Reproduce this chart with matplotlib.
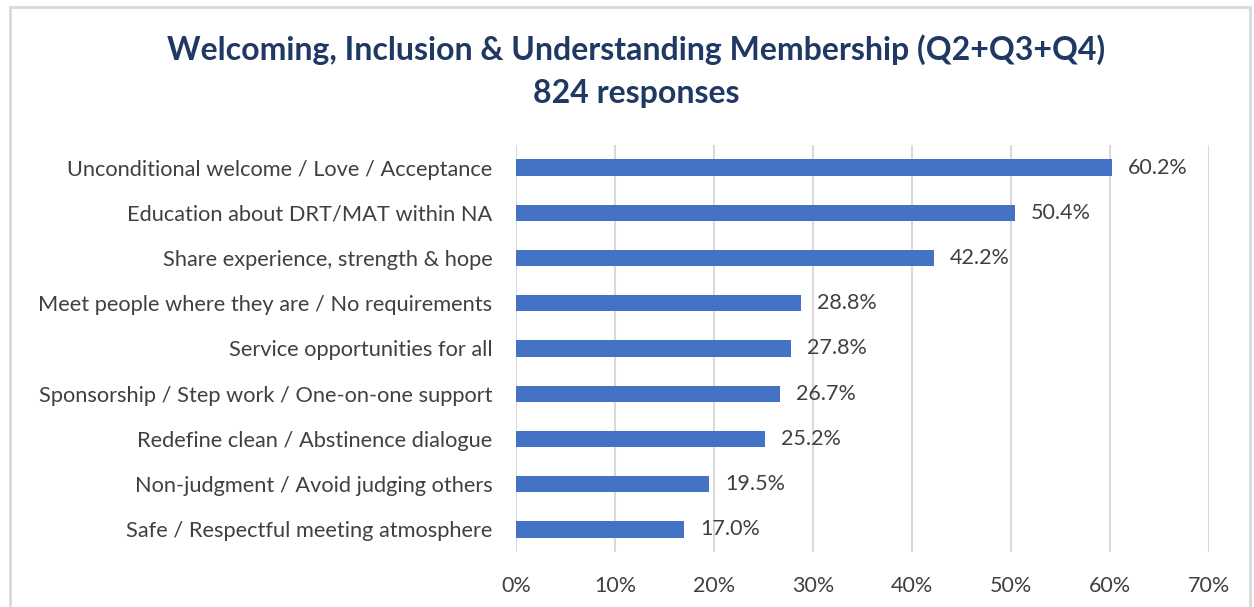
import numpy as np
import matplotlib.pyplot as plt
from matplotlib.patches import Rectangle
from matplotlib.ticker import PercentFormatter

plt.rcParams['font.family'] = ['Lato', 'DejaVu Sans']

categories = [
    "Unconditional welcome / Love / Acceptance",
    "Education about DRT/MAT within NA",
    "Share experience, strength & hope",
    "Meet people where they are / No requirements",
    "Service opportunities for all",
    "Sponsorship / Step work / One-on-one support",
    "Redefine clean / Abstinence dialogue",
    "Non-judgment / Avoid judging others",
    "Safe / Respectful meeting atmosphere",
]
values = [60.2, 50.4, 42.2, 28.8, 27.8, 26.7, 25.2, 19.5, 17.0]
xticks = [0, 10, 20, 30, 40, 50, 60, 70]

bar_color = '#4472C4'
text_color = '#404040'
title_color = '#1F3864'

fig = plt.figure(figsize=(12.54, 6.07), dpi=100)
ax = fig.add_axes([516 / 1254, 55 / 607, (1209 - 516) / 1254, (552 - 145) / 607])

# chart frame
fig.patches.append(Rectangle((10 / 1254, -0.05), 1240 / 1254, 1.05 - 7 / 607,
                             transform=fig.transFigure, fill=False,
                             edgecolor='#D9D9D9', linewidth=2))

y = np.arange(len(categories))
ax.barh(y, values, height=0.36, color=bar_color, zorder=3)
for yi, v in zip(y, values):
    ax.text(v + 1.6, yi, f"{v:.1f}%", va='center', ha='left',
            fontsize=15.5, color=text_color)

ax.set_ylim(len(categories) - 0.5, -0.5)
ax.set_yticks(y)
ax.set_yticklabels(categories, fontsize=15.7, color=text_color)
ax.set_xlim(0, 70)
ax.set_xticks(xticks)
ax.xaxis.set_major_formatter(PercentFormatter(decimals=0))
ax.tick_params(axis='x', labelsize=15.5, labelcolor=text_color, length=0, pad=17)
ax.tick_params(axis='y', length=0, pad=17)
ax.grid(axis='x', color='#D9D9D9', linewidth=1.5, zorder=0)
for s in ax.spines.values():
    s.set_visible(False)

fig.text(0.507, 1 - 50 / 607, "Welcoming, Inclusion & Understanding Membership (Q2+Q3+Q4)",
         ha='center', va='center', fontsize=23, fontweight='bold', color=title_color)
fig.text(0.507, 1 - 93 / 607, "824 responses",
         ha='center', va='center', fontsize=23, fontweight='bold', color=title_color)

fig.savefig('out.png', dpi=100)
